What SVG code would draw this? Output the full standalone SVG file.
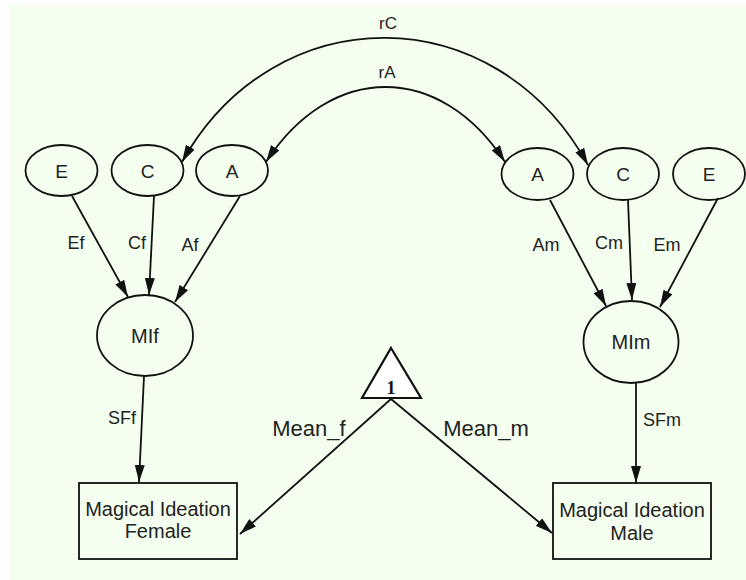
<svg xmlns="http://www.w3.org/2000/svg" width="746" height="580" viewBox="0 0 746 580">
<style>
.node ellipse{fill:none;stroke:#111;stroke-width:1.8}
.node rect{fill:none;stroke:#111;stroke-width:1.8}
.t{font-family:"Liberation Sans",Arial,sans-serif;fill:#222;text-anchor:middle}
.lbl{font-size:18px}
.nl{font-size:19px}
.conn path{fill:none;stroke:#111;stroke-width:1.8}
</style>
<defs>
<marker id="ah" viewBox="0 0 17 10" refX="17" refY="5" markerWidth="17" markerHeight="10" markerUnits="userSpaceOnUse" orient="auto-start-reverse">
<path d="M0,0 L17,5 L0,10 z" fill="#111"/>
</marker>
</defs>
<rect x="0" y="0" width="746" height="580" fill="#ffffff"/>
<rect x="10" y="5" width="736" height="575" fill="#f5fff0"/>

<g id="conns" class="conn">
<path d="M182,162 C275,-4 495,-4 588,165" marker-start="url(#ah)" marker-end="url(#ah)"/>
<path d="M266,162 C331,62 440,62 505,162" marker-start="url(#ah)" marker-end="url(#ah)"/>
<path d="M72,196 L128,297" marker-end="url(#ah)"/>
<path d="M154,196 L149,295" marker-end="url(#ah)"/>
<path d="M240,196 L175,302" marker-end="url(#ah)"/>
<path d="M550,200 L606,306" marker-end="url(#ah)"/>
<path d="M628,200 L632,300" marker-end="url(#ah)"/>
<path d="M718,198 L660,307" marker-end="url(#ah)"/>
<path d="M144,376 L139,482" marker-end="url(#ah)"/>
<path d="M636,383 L636,483" marker-end="url(#ah)"/>
<path d="M391,399 L240,534" marker-end="url(#ah)"/>
<path d="M391,399 L552,533" marker-end="url(#ah)"/>
</g>

<g id="labels">
<text class="t" x="388" y="29" font-size="17">rC</text>
<text class="t" x="387" y="78" font-size="17">rA</text>
<text class="t lbl" x="76" y="249">Ef</text>
<text class="t lbl" x="137" y="249">Cf</text>
<text class="t lbl" x="190" y="251">Af</text>
<text class="t lbl" x="546" y="251">Am</text>
<text class="t lbl" x="609" y="249">Cm</text>
<text class="t lbl" x="667" y="251">Em</text>
<text class="t lbl" x="122" y="424">SFf</text>
<text class="t lbl" x="662" y="426">SFm</text>
<text class="t" x="309" y="436" font-size="22">Mean_f</text>
<text class="t" x="486" y="436" font-size="22">Mean_m</text>
</g>

<g id="E_f" class="node"><ellipse cx="61.5" cy="170.5" rx="36" ry="25.5"/><text class="t nl" x="61.5" y="177.5">E</text></g>
<g id="C_f" class="node"><ellipse cx="147.5" cy="170.5" rx="36" ry="25.5"/><text class="t nl" x="147.5" y="177.5">C</text></g>
<g id="A_f" class="node"><ellipse cx="232" cy="170.5" rx="36" ry="25.5"/><text class="t nl" x="232" y="177.5">A</text></g>
<g id="A_m" class="node"><ellipse cx="537.5" cy="174" rx="36" ry="26"/><text class="t nl" x="537.5" y="181">A</text></g>
<g id="C_m" class="node"><ellipse cx="623" cy="174" rx="36" ry="26"/><text class="t nl" x="623" y="181">C</text></g>
<g id="E_m" class="node"><ellipse cx="709" cy="174" rx="36" ry="26"/><text class="t nl" x="709" y="181">E</text></g>
<g id="MIf" class="node"><ellipse cx="145" cy="335.5" rx="48" ry="40.5"/><text class="t" x="145" y="342.5" font-size="20">MIf</text></g>
<g id="MIm" class="node"><ellipse cx="631" cy="342" rx="47.5" ry="41"/><text class="t" x="631" y="349" font-size="20">MIm</text></g>
<g id="one" class="node"><path d="M391,348 L421,398 L362,398 Z" fill="#fff" stroke="#111" stroke-width="2.2"/><text x="391" y="394" font-family="'Liberation Serif','Times New Roman',serif" font-size="18" font-weight="bold" text-anchor="middle" fill="#111">1</text></g>
<g id="MI_female" class="node"><rect x="79" y="483" width="158" height="76"/><text class="t" x="158" y="516" font-size="20">Magical Ideation</text><text class="t" x="158" y="538" font-size="20">Female</text></g>
<g id="MI_male" class="node"><rect x="553" y="483" width="158" height="76"/><text class="t" x="632" y="517" font-size="20">Magical Ideation</text><text class="t" x="632" y="540" font-size="20">Male</text></g>
</svg>
